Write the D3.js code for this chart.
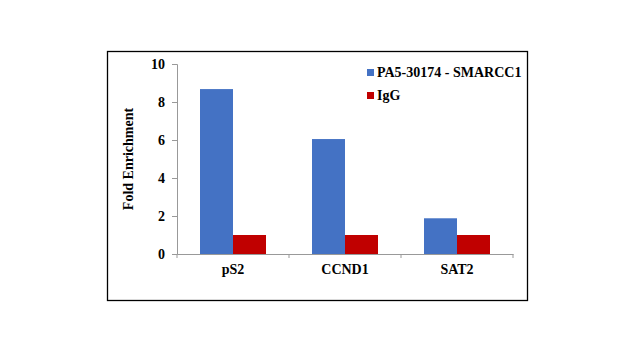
<!DOCTYPE html>
<html>
<head>
<meta charset="utf-8">
<script src="https://cdn.jsdelivr.net/npm/d3@7"></script>
<style>
  body { margin: 0; background: #fff; }
</style>
</head>
<body>
<div id="chart"></div>
<script>
let categories = ["pS2", "CCND1", "SAT2"];
let seriesNames = ["PA5-30174 - SMARCC1", "IgG"];
let antibodyValues = [8.68, 6.05, 1.88];
let iggValues = [1.0, 1.0, 1.0];
let yTicks = [0, 2, 4, 6, 8, 10];
let colors = ["#4472c4", "#c00000"];

let fontFam = "'Times New Roman', 'Liberation Serif', 'DejaVu Serif', serif";

let width = 635, height = 353;
let margin = { top: 64, left: 177, right: 122, bottom: 99 };
let innerW = width - margin.left - margin.right;
let innerH = height - margin.top - margin.bottom;

let svg = d3.select("#chart").append("svg")
    .attr("width", width)
    .attr("height", height);

// frame
svg.append("rect")
    .attr("x", 107.5).attr("y", 51.5)
    .attr("width", 420).attr("height", 249)
    .attr("fill", "none").attr("stroke", "#000").attr("stroke-width", 1.3);

let g = svg.append("g").attr("transform", `translate(${margin.left},${margin.top})`);

let x = d3.scaleBand().domain(categories).range([0, innerW]);
let x1 = d3.scaleBand().domain(seriesNames).range([23, x.bandwidth() - 23]);
let y = d3.scaleLinear().domain([0, 10]).range([innerH, 0]);

// y axis
let yAxis = g.append("g")
    .call(d3.axisLeft(y).tickValues(yTicks).tickSize(5).tickPadding(7));
yAxis.attr("font-family", null);
yAxis.select(".domain").attr("stroke", "#999");
yAxis.selectAll(".tick line").attr("stroke", "#999");
yAxis.selectAll(".tick text").style("font-size", "14px").attr("fill", "#000");

// x axis
let xAxis = g.append("g")
    .attr("transform", `translate(0,${innerH})`)
    .call(d3.axisBottom(x).tickSize(0).tickPadding(10));
xAxis.attr("font-family", null);
xAxis.select(".domain").attr("stroke", "#999");
xAxis.selectAll(".tick text").style("font-size", "14px").attr("fill", "#000");
g.selectAll(".sep")
    .data(d3.range(categories.length + 1))
    .enter().append("line")
    .attr("x1", i => i * x.step())
    .attr("x2", i => i * x.step())
    .attr("y1", innerH).attr("y2", innerH + 4)
    .attr("stroke", "#999");

// bars
let rows = categories.map((c, i) => ({ cat: c, vals: [antibodyValues[i], iggValues[i]] }));
let grp = g.selectAll(".grp").data(rows).enter().append("g")
    .attr("transform", d => `translate(${x(d.cat)},0)`);
grp.selectAll("rect")
    .data(d => d.vals.map((v, j) => ({ s: seriesNames[j], v: v, j: j })))
    .enter().append("rect")
    .attr("x", d => x1(d.s))
    .attr("width", x1.bandwidth())
    .attr("y", d => y(d.v))
    .attr("height", d => innerH - y(d.v))
    .attr("fill", d => colors[d.j]);

// y title
svg.append("text")
    .attr("transform", `translate(133,${margin.top + innerH / 2}) rotate(-90)`)
    .attr("text-anchor", "middle")
    .style("font-size", "14px")
    .text("Fold Enrichment");

// legend
let leg = svg.append("g").attr("transform", "translate(367,69)");
seriesNames.forEach((s, i) => {
    leg.append("rect").attr("x", 0).attr("y", i * 23).attr("width", 7).attr("height", 7).attr("fill", colors[i]);
    leg.append("text").attr("x", 10).attr("y", i * 23 + 8).style("font-size", "14px").text(s);
});

svg.selectAll("text")
    .style("font-family", fontFam)
    .style("font-weight", "bold");
</script>
</body>
</html>
